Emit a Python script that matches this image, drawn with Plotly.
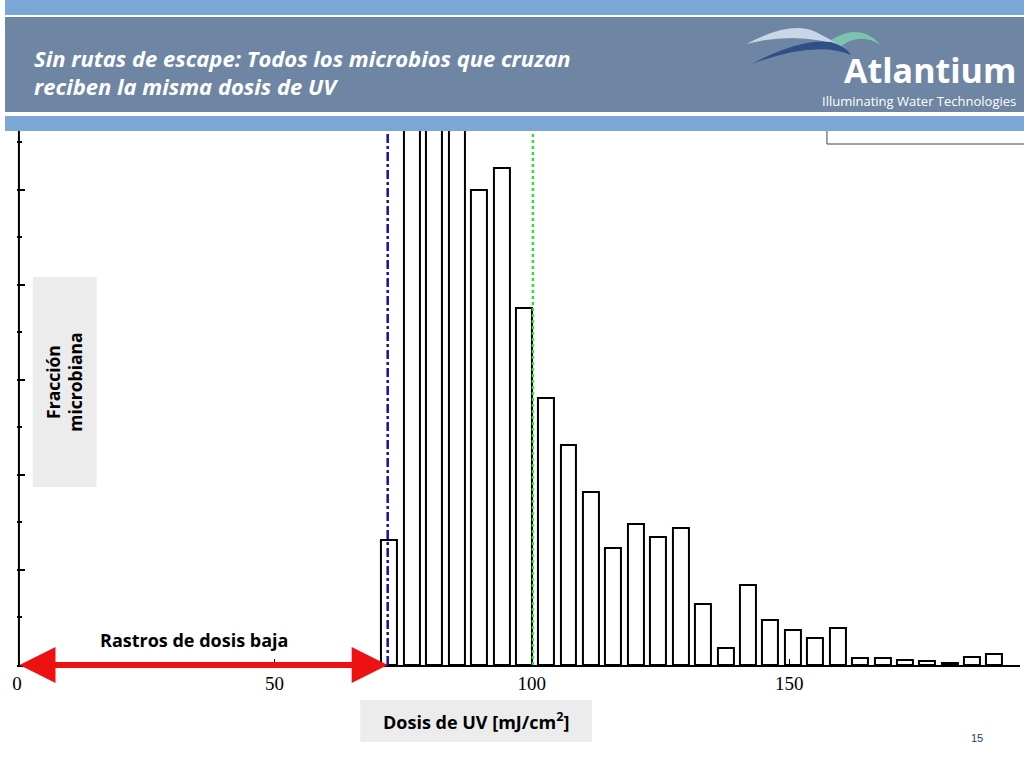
import plotly.graph_objects as go

dose_centers = [72.3, 76.7, 81.0, 85.4, 89.7, 94.1, 98.4, 102.8, 107.1, 111.5, 115.8, 120.2, 124.5,
                128.9, 133.3, 137.6, 142.0, 146.3, 150.7, 155.0, 159.4, 163.7, 168.1, 172.4,
                176.8, 181.1, 185.5, 189.8]
fraction = [1.32, 7.0, 8.0, 6.5, 5.0, 5.23, 3.76, 2.81, 2.32, 1.82, 1.23, 1.48, 1.35, 1.44,
            0.64, 0.18, 0.84, 0.47, 0.37, 0.28, 0.39, 0.07, 0.07, 0.05, 0.04, 0.02, 0.08, 0.12]
x_ticks = [0, 50, 100, 150]
blue_line_dose = 72.0
green_line_dose = 100.2

fig = go.Figure()
fig.add_trace(go.Bar(x=dose_centers, y=fraction, width=3.1,
                     marker=dict(color="white", line=dict(color="black", width=2)),
                     showlegend=False, hoverinfo="skip"))

W, H = 1024, 768
def px(x): return x / W
def py(y): return 1 - y / H

shapes = []
shapes.append(dict(type="rect", xref="paper", yref="paper", x0=0, x1=1, y0=py(15), y1=1,
                   fillcolor="#7BA7D6", line_width=0, layer="below"))
shapes.append(dict(type="rect", xref="paper", yref="paper", x0=0, x1=1, y0=py(112), y1=py(17),
                   fillcolor="#6E86A3", line_width=0, layer="below"))
shapes.append(dict(type="rect", xref="paper", yref="paper", x0=0, x1=1, y0=py(131), y1=py(116),
                   fillcolor="#7BA7D6", line_width=0, layer="below"))
shapes.append(dict(type="path", xref="paper", yref="paper",
                   path=f"M{px(826)},{py(131)} L{px(826)},{py(144)} L{px(1024)},{py(144)}",
                   line=dict(color="#444", width=1)))
shapes.append(dict(type="path", xref="paper", yref="paper",
                   path=f"M{px(745)},{py(44)} Q{px(790)},{py(20)} {px(815)},{py(32)} Q{px(830)},{py(40)} {px(845)},{py(48)} Q{px(800)},{py(30)} {px(745)},{py(44)} Z",
                   fillcolor="#C9D6E8", line_width=0))
shapes.append(dict(type="path", xref="paper", yref="paper",
                   path=f"M{px(830)},{py(40)} Q{px(860)},{py(22)} {px(880)},{py(45)} Q{px(860)},{py(32)} {px(840)},{py(46)} Z",
                   fillcolor="#7CC4B0", line_width=0))
shapes.append(dict(type="path", xref="paper", yref="paper",
                   path=f"M{px(750)},{py(64)} Q{px(800)},{py(38)} {px(830)},{py(42)} Q{px(845)},{py(46)} {px(850)},{py(55)} Q{px(815)},{py(40)} {px(750)},{py(64)} Z",
                   fillcolor="#2F4F86", line_width=0))
shapes.append(dict(type="rect", xref="paper", yref="paper", x0=px(28), x1=px(92), y0=py(487), y1=py(277),
                   fillcolor="#ECECEC", line_width=0))
shapes.append(dict(type="rect", xref="paper", yref="paper", x0=px(357), x1=px(590), y0=py(742), y1=py(700),
                   fillcolor="#ECECEC", line_width=0))
shapes.append(dict(type="line", xref="x", yref="paper", x0=blue_line_dose, x1=blue_line_dose,
                   y0=py(665), y1=py(131), line=dict(color="#1010B0", width=2.5, dash="dashdot")))
shapes.append(dict(type="line", xref="x", yref="paper", x0=green_line_dose, x1=green_line_dose,
                   y0=py(665), y1=py(131), line=dict(color="#33DD33", width=2.5, dash="dot")))
shapes.append(dict(type="line", xref="paper", yref="paper", x0=px(14), x1=px(14), y0=py(665), y1=py(131),
                   line=dict(color="black", width=2)))
fig.update_layout(shapes=shapes)

ann = []
ann.append(dict(xref="paper", yref="paper", x=px(27), y=py(58), xanchor="left", yanchor="middle",
                text="<b><i>Sin rutas de escape: Todos los microbios que cruzan</i></b>", showarrow=False,
                font=dict(family="Open Sans", size=22, color="white")))
ann.append(dict(xref="paper", yref="paper", x=px(27), y=py(86), xanchor="left", yanchor="middle",
                text="<b><i>reciben la misma dosis de UV</i></b>", showarrow=False,
                font=dict(family="Open Sans", size=22, color="white")))
ann.append(dict(xref="paper", yref="paper", x=px(1018), y=py(70), xanchor="right", yanchor="middle",
                text="<b>Atlantium</b>", showarrow=False,
                font=dict(family="Open Sans", size=34, color="white")))
ann.append(dict(xref="paper", yref="paper", x=px(1018), y=py(101), xanchor="right", yanchor="middle",
                text="Illuminating Water Technologies", showarrow=False,
                font=dict(family="Open Sans", size=13, color="white")))
ann.append(dict(xref="paper", yref="paper", x=px(60), y=py(382), xanchor="center", yanchor="middle",
                textangle=-90, text="<b>Fracción<br>microbiana</b>", showarrow=False,
                font=dict(family="Open Sans", size=17.5, color="black")))
ann.append(dict(xref="paper", yref="paper", x=px(473), y=py(721), xanchor="center", yanchor="middle",
                text="<b>Dosis de UV [mJ/cm<sup>2</sup>]</b>", showarrow=False,
                font=dict(family="Open Sans", size=18, color="black")))
ann.append(dict(xref="paper", yref="paper", x=px(190), y=py(640), xanchor="center", yanchor="middle",
                text="<b>Rastros de dosis baja</b>", showarrow=False,
                font=dict(family="Open Sans", size=18, color="black")))
ann.append(dict(xref="paper", yref="paper", x=px(977), y=py(738), xanchor="center", yanchor="middle",
                text="15", showarrow=False, font=dict(family="Liberation Sans", size=11, color="#1F3A70")))
for a, b in [(3, blue_line_dose), (blue_line_dose - 1, 0.5)]:
    ann.append(dict(xref="x", yref="y", axref="x", ayref="y", x=b, y=0, ax=a, ay=0,
                    text="", showarrow=True, arrowhead=2, arrowsize=1.2, arrowwidth=6, arrowcolor="#EE1111"))
fig.update_layout(annotations=ann)

fig.update_layout(
    width=W, height=H, margin=dict(l=0, r=0, t=0, b=0),
    paper_bgcolor="white", plot_bgcolor="white", bargap=0,
    xaxis=dict(domain=[px(12), px(1020)], range=[0, 194.8], tickvals=x_ticks,
               ticks="inside", ticklen=6, tickcolor="black", showgrid=False, zeroline=False,
               showline=True, linecolor="black", linewidth=2,
               tickfont=dict(family="Liberation Serif", size=19, color="black")),
    yaxis=dict(domain=[py(665), py(131)], range=[0, 5.62], dtick=1, ticks="inside", ticklen=8,
               tickwidth=2, tickcolor="black", showticklabels=False, showgrid=False, zeroline=False,
               minor=dict(dtick=0.5, ticks="inside", ticklen=5, tickcolor="black")),
)
fig.write_html("out.html", config={"displayModeBar": False},
               post_script="document.body.style.margin='0';document.body.style.overflow='hidden';")
